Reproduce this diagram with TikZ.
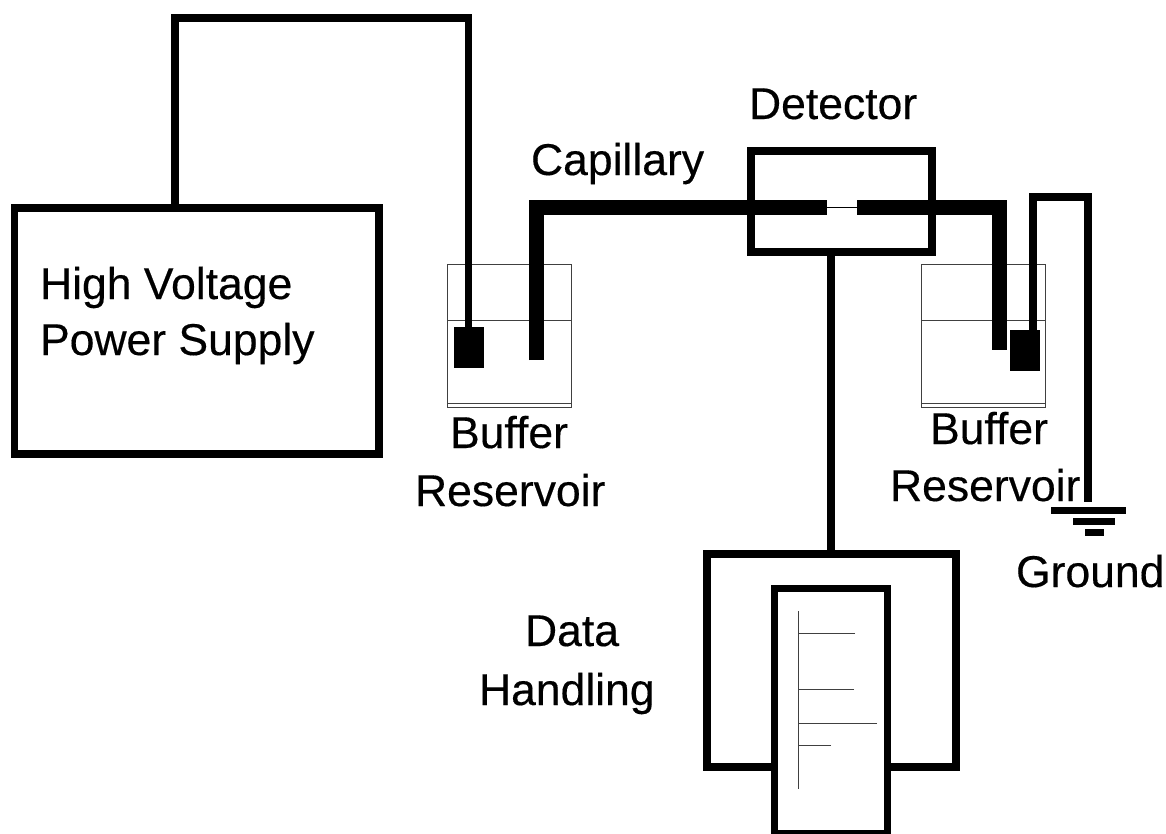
\documentclass[tikz,border=0pt]{standalone}
\usepackage{fontspec}
\setmainfont[FakeBold=0.35]{Liberation Sans}
\tikzset{
  heavy/.style={draw=black,line width=7.5pt,fill=none,inner sep=0pt,outer sep=0pt},
  wire/.style={draw=black,line width=7.5pt,line cap=butt,line join=miter},
  capil/.style={draw=black,line width=15pt,line cap=butt,line join=miter},
  thinwire/.style={draw=black,line width=1.6pt},
  tank/.style={draw=black!75,line width=1pt,fill=white,inner sep=0pt,outer sep=0pt,minimum width=124pt,minimum height=143pt},
  electrode/.style={fill=black,draw=none,inner sep=0pt,outer sep=0pt,minimum width=30pt,minimum height=41pt},
  trace/.style={draw=black!75,line width=1pt},
  label/.style={anchor=base west,inner sep=0pt,outer sep=0pt,font=\fontsize{44.5}{44.5}\selectfont,text=black},
  gnd/.style={fill=black,draw=none,inner sep=0pt,outer sep=0pt},
}
\begin{document}
\begin{tikzpicture}[x=1pt,y=-1pt]
\useasboundingbox (0,0) rectangle (1166,833);
\begin{scope}
\clip (0,0) rectangle (1166,833);
% boxes
\node[heavy,minimum width=364.5pt,minimum height=246pt] (hv) at (196.7,331) {};
\node[heavy,minimum width=181pt,minimum height=101pt] (det) at (841.5,201.5) {};
\node[heavy,minimum width=249pt,minimum height=213pt] (data) at (831.5,660.5) {};
\node[heavy,fill=white,minimum width=113pt,minimum height=245.5pt] (chart) at (831,711.25) {};
% reservoirs
\node[tank] (resL) at (509,335.5) {};
\node[tank] (resR) at (983,335.5) {};
\draw[trace] (resL.west |- 0,320) -- (resL.east |- 0,320);
\draw[trace] (resL.west |- 0,403) -- (resL.east |- 0,403);
\draw[trace] (resR.west |- 0,320) -- (resR.east |- 0,320);
\draw[trace] (resR.west |- 0,403) -- (resR.east |- 0,403);
% electrodes
\node[electrode] (elL) at (469,347.5) {};
\node[electrode] (elR) at (1025,350.5) {};
% power wire
\coordinate (hvout) at (175,205);
\coordinate (elLtop) at (468.5,327);
\draw[wire] (hvout) -- (175,18) -- (468.5,18) -- (elLtop);
% capillary
\coordinate (capA) at (536.5,360);
\coordinate (capB) at (827,207.5);
\coordinate (capC) at (857,207.5);
\coordinate (capD) at (999.5,350);
\draw[capil] (capA) -- (536.5,207.5) -- (capB);
\draw[thinwire] (capB) -- (capC);
\draw[capil] (capC) -- (999.5,207.5) -- (capD);
% detector to data
\draw[wire] (det.south -| 831,0) -- (data.north -| 831,0);
% ground wire
\coordinate (elRtop) at (1033,330);
\coordinate (gndtop) at (1088,502);
\draw[wire] (elRtop) -- (1033,197) -- (1088,197) -- (gndtop);
\node[gnd,minimum width=75pt,minimum height=7pt] (g1) at (1088.5,510) {};
\node[gnd,minimum width=42pt,minimum height=7pt] (g2) at (1094,521.5) {};
\node[gnd,minimum width=19pt,minimum height=7pt] (g3) at (1094.5,532.5) {};
% chart
\coordinate (axT) at (798,611);
\coordinate (axB) at (798,789);
\draw[trace] (axT) -- (axB);
\coordinate (p1) at (855,633);
\coordinate (p2) at (854,689);
\coordinate (p3) at (877,723);
\coordinate (p4) at (831,745);
\draw[trace] (p1) -- (798,633);
\draw[trace] (p2) -- (798,689);
\draw[trace] (p3) -- (798,723);
\draw[trace] (p4) -- (798,745);
\end{scope}
% labels
\node[label] (t1) at (40,299) {High Voltage};
\node[label] (t2) at (40,355) {Power Supply};
\node[label] (t3) at (531,175) {Capillary};
\node[label] (t4) at (749,119) {Detector};
\node[label] (t5) at (450,448) {Buffer};
\node[label] (t6) at (415,506) {Reservoir};
\node[label] (t7) at (930,444) {Buffer};
\node[label] (t8) at (890,501) {Reservoir};
\node[label] (t9) at (1016,587) {Ground};
\node[label] (t10) at (525,646) {Data};
\node[label] (t11) at (479,705) {Handling};
\end{tikzpicture}
\end{document}
